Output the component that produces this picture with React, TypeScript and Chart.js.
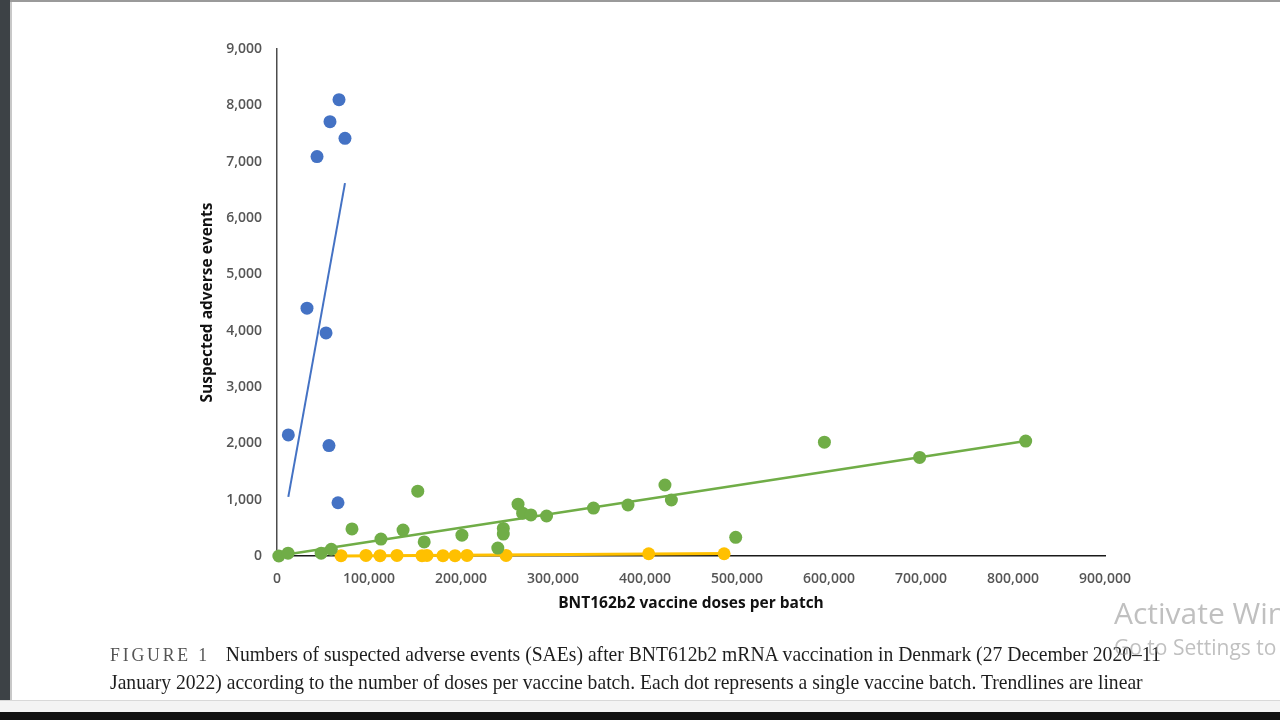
import React, { useEffect, useRef } from "react";
import { Chart, registerables } from "chart.js";

Chart.register(...registerables);

// Data
const blueX = [12300, 32600, 43500, 53300, 56500, 57600, 66300, 67400, 73900];
const blueY = [2150, 4400, 7090, 3960, 1960, 7710, 945, 8100, 7415];

const greenX = [2000, 12000, 48000, 59000, 81500, 113000, 137000, 153000, 160000, 201000, 240000, 246000, 246000, 262000, 267000, 276000, 293000, 344000, 381500, 421700, 428700, 498600, 595000, 698500, 813800];
const greenY = [0, 50, 50, 120, 480, 300, 460, 1150, 250, 370, 140, 490, 390, 920, 760, 730, 710, 850, 905, 1260, 994, 332, 2020, 1750, 2040];

const yellowX = [69600, 96700, 112000, 130400, 157600, 163000, 180400, 193500, 206500, 249000, 404000, 486000];
const yellowY = [5, 10, 5, 10, 5, 10, 5, 5, 10, 10, 40, 40];

// Linear trendline end points
const blueTrendX = [12300, 73900];
const blueTrendY = [1050, 6620];
const greenTrendX = [5000, 813800];
const greenTrendY = [15, 2040];
const yellowTrendX = [69600, 486000];
const yellowTrendY = [0, 45];

const xTicks = [0, 100000, 200000, 300000, 400000, 500000, 600000, 700000, 800000, 900000];
const yTicks = [0, 1000, 2000, 3000, 4000, 5000, 6000, 7000, 8000, 9000];

const xTitle = "BNT162b2 vaccine doses per batch";
const yTitle = "Suspected adverse events";

const BLUE = "#4472C4";
const GREEN = "#70AD47";
const YELLOW = "#FFC000";

const pts = (xs: number[], ys: number[]) => xs.map((x, i) => ({ x, y: ys[i] }));
const fmt = (v: number) => v.toLocaleString("en-US");

export default function App() {
  const ref = useRef<HTMLCanvasElement>(null);

  useEffect(() => {
    if (!ref.current) return;
    const tickFont = { family: "'Open Sans'", size: 14, weight: "600" };
    const titleFont = { family: "'Open Sans'", size: 15.5, weight: "bold" };
    const chart = new Chart(ref.current, {
      type: "scatter",
      data: {
        datasets: [
          { label: "Blue", data: pts(blueX, blueY), backgroundColor: BLUE, borderWidth: 0, pointRadius: 6.5, clip: false } as any,
          { label: "Green", data: pts(greenX, greenY), backgroundColor: GREEN, borderWidth: 0, pointRadius: 6.5, clip: false } as any,
          { label: "Yellow", data: pts(yellowX, yellowY), backgroundColor: YELLOW, borderWidth: 0, pointRadius: 6.5, clip: false } as any,
          { type: "line", label: "Blue trend", data: pts(blueTrendX, blueTrendY), borderColor: BLUE, borderWidth: 2, pointRadius: 0, showLine: true, fill: false, clip: false } as any,
          { type: "line", label: "Green trend", data: pts(greenTrendX, greenTrendY), borderColor: GREEN, borderWidth: 2.5, pointRadius: 0, showLine: true, fill: false, clip: false } as any,
          { type: "line", label: "Yellow trend", data: pts(yellowTrendX, yellowTrendY), borderColor: YELLOW, borderWidth: 3, pointRadius: 0, showLine: true, fill: false, clip: false } as any,
        ],
      },
      options: {
        responsive: false,
        animation: false,
        layout: { padding: { left: 190, right: 175, top: 49, bottom: 107 } },
        plugins: { legend: { display: false }, tooltip: { enabled: false } },
        scales: {
          x: {
            type: "linear",
            min: 0,
            max: 900000,
            afterFit: (s: any) => { s.height = 57; },
            afterBuildTicks: (s: any) => { s.ticks = xTicks.map((v) => ({ value: v })); },
            grid: { display: false, drawTicks: false },
            border: { display: true, color: "#1a1a1a", width: 1.5 },
            ticks: { padding: 15, color: "#555", font: tickFont, callback: (v: any) => fmt(Number(v)), maxRotation: 0 },
            title: { display: true, text: xTitle, color: "#111", padding: { top: 0, bottom: 0 }, font: titleFont },
          },
          y: {
            type: "linear",
            min: 0,
            max: 9000,
            afterFit: (s: any) => { s.width = 87; },
            afterBuildTicks: (s: any) => { s.ticks = yTicks.map((v) => ({ value: v })); },
            grid: { display: false, drawTicks: false },
            border: { display: true, color: "#4d4d4d", width: 1.5 },
            ticks: { padding: 15, color: "#555", font: tickFont, callback: (v: any) => fmt(Number(v)) },
            title: { display: true, text: yTitle, color: "#111", padding: { top: 8, bottom: 0 }, font: titleFont },
          },
        },
      } as any,
    });
    return () => chart.destroy();
  }, []);

  const captionStyle: React.CSSProperties = {
    position: "absolute",
    left: 110,
    whiteSpace: "nowrap",
    fontFamily: "'Liberation Serif', serif",
    fontSize: 21,
    color: "#1e1e1e",
    transform: "scaleX(0.935)",
    transformOrigin: "left center",
  };

  return (
    <div style={{ position: "fixed", left: 0, top: 0, width: 1280, height: 720, background: "#fff", overflow: "hidden" }}>
      <div style={{ position: "absolute", left: 0, top: 0, width: 10, height: 712, background: "#3d4246" }} />
      <div style={{ position: "absolute", left: 10, top: 0, width: 2, height: 700, background: "#c8c8c8" }} />
      <div style={{ position: "absolute", left: 10, top: 0, width: 1270, height: 2, background: "#9a9a9a" }} />
      <canvas ref={ref} width={1280} height={720} style={{ position: "absolute", left: 0, top: 0, width: 1280, height: 720 }} />
      <div style={{ ...captionStyle, top: 642 }}>
        <span style={{ letterSpacing: 3, color: "#555", fontSize: 19 }}>FIGURE 1</span>
        <span style={{ marginLeft: 17 }}>Numbers of suspected adverse events (SAEs) after BNT612b2 mRNA vaccination in Denmark (27 December 2020–11</span>
      </div>
      <div style={{ ...captionStyle, top: 670 }}>
        January 2022) according to the number of doses per vaccine batch. Each dot represents a single vaccine batch. Trendlines are linear
      </div>
      <div style={{ position: "absolute", left: 1114, top: 592, whiteSpace: "nowrap", fontFamily: "'Open Sans', sans-serif", fontSize: 30, color: "rgba(140,140,140,0.55)" }}>
        Activate Windows
      </div>
      <div style={{ position: "absolute", left: 1114, top: 633, whiteSpace: "nowrap", fontFamily: "'Open Sans', sans-serif", fontSize: 21, color: "rgba(140,140,140,0.55)" }}>
        Go to Settings to activate Windows.
      </div>
      <div style={{ position: "absolute", left: 0, top: 700, width: 1280, height: 1, background: "#d8d8d8" }} />
      <div style={{ position: "absolute", left: 0, top: 701, width: 1280, height: 11, background: "#f3f3f3" }} />
      <div style={{ position: "absolute", left: 0, top: 712, width: 1280, height: 8, background: "#111" }} />
    </div>
  );
}
